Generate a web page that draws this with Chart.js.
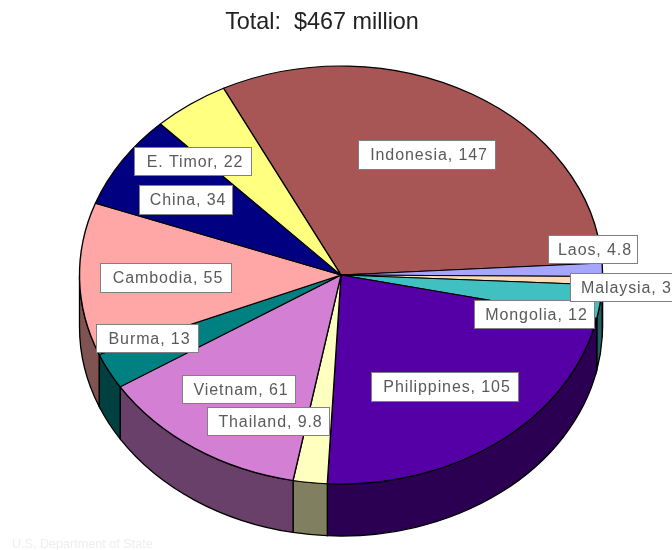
<!DOCTYPE html>
<html lang="en">
<head>
<meta charset="UTF-8">
<title>Total: $467 million</title>
<script src="https://cdn.jsdelivr.net/npm/chart.js"></script>
<style>
  html, body { margin: 0; padding: 0; background: #fff; overflow: hidden; }
  #chart { display: block; }
</style>
</head>
<body>
<canvas id="chart" width="672" height="550"></canvas>
<script>
const categories = ['Indonesia', 'Laos', 'Malaysia', 'Mongolia', 'Philippines', 'Thailand', 'Vietnam', 'Burma', 'Cambodia', 'China', 'E. Timor'];
const values = [147, 4.8, 3, 12, 105, 9.8, 61, 13, 55, 34, 22];
const colors = ['#a85555', '#a6a6ff', '#ffdcb8', '#40c0c0', '#5500a6', '#ffffc0', '#d27fd4', '#008080', '#ffa6a6', '#000080', '#ffff80'];

// label box per slice: left, top, right, bottom (hand placed in the original too)
const labelBoxes = [
  [358, 140, 496, 170], [548, 235, 638, 264], [570, 273, 680, 302], [474, 300, 595, 329],
  [371, 372, 519, 402], [207, 407, 330, 436], [182, 375, 296, 404], [96, 324, 199, 353],
  [100, 263, 232, 293], [139, 185, 233, 215], [134, 147, 252, 176]
];

// how the flat pie is laid over on its side
const pie3d = { cx: 341, cy: 275, rx: 261.5, ry: 209, depth: 52 };

function halfColor(hex) {
  const n = parseInt(hex.slice(1), 16);
  const c = [n >> 16, (n >> 8) & 255, n & 255].map(v => Math.round(v / 2));
  return `rgb(${c[0]},${c[1]},${c[2]})`;
}

const tiltPlugin = {
  id: 'tilt',
  beforeDatasetsDraw(chart) {
    const ctx = chart.ctx;
    const arcs = chart.getDatasetMeta(0).data;
    const { cx, cy, rx, ry, depth } = pie3d;

    // outer wall, only the front half shows
    arcs.forEach((arc, i) => {
      [0, Math.PI * 2].forEach(k => {
        const s = Math.max(arc.startAngle, k);
        const e = Math.min(arc.endAngle, k + Math.PI);
        if (s >= e) return;
        ctx.beginPath();
        ctx.ellipse(cx, cy, rx, ry, 0, s, e);
        ctx.ellipse(cx, cy + depth, rx, ry, 0, e, s, true);
        ctx.closePath();
        ctx.fillStyle = halfColor(colors[i]);
        ctx.fill();
        ctx.strokeStyle = '#000';
        ctx.lineWidth = 1.3;
        ctx.stroke();
      });
    });

    const a = arcs[0];
    const r = a.outerRadius;
    ctx.save();
    ctx.translate(cx, cy);
    ctx.scale(rx / r, ry / r);
    ctx.translate(-a.x, -a.y);
  },
  afterDatasetsDraw(chart) {
    const ctx = chart.ctx;
    ctx.restore();

    ctx.font = '16px "Liberation Sans"';
    ctx.letterSpacing = '0.9px';
    ctx.textBaseline = 'middle';
    ctx.textAlign = 'center';
    for (let i = categories.length - 1; i >= 0; i--) {
      const [x0, y0, x1, y1] = labelBoxes[i];
      ctx.fillStyle = '#fff';
      ctx.fillRect(x0, y0, x1 - x0, y1 - y0);
      ctx.strokeStyle = '#808080';
      ctx.lineWidth = 1;
      ctx.strokeRect(x0 + 0.5, y0 + 0.5, x1 - x0 - 1, y1 - y0 - 1);
      ctx.fillStyle = '#5a5a5a';
      const text = `${categories[i]}, ${values[i]}`;
      const tx = i === 2 ? 581 + ctx.measureText(text).width / 2 : (x0 + x1) / 2 + 2;
      ctx.fillText(text, tx, (y0 + y1) / 2 + 1);
    }
    ctx.letterSpacing = '0px';

    ctx.font = '12.6px "Liberation Sans"';
    ctx.textAlign = 'left';
    ctx.fillStyle = '#eeeeee';
    ctx.fillText('U.S. Department of State', 12, 545);
  }
};

new Chart(document.getElementById('chart'), {
  type: 'pie',
  data: {
    labels: categories,
    datasets: [{
      data: values,
      backgroundColor: colors,
      borderColor: '#000',
      borderWidth: 1.3
    }]
  },
  options: {
    responsive: false,
    animation: false,
    devicePixelRatio: 1,
    rotation: -26.7,
    layout: { padding: { right: 28 } },
    plugins: {
      legend: { display: false },
      tooltip: { enabled: false },
      title: {
        display: true,
        text: 'Total:  $467 million',
        color: '#222',
        font: { family: '"Liberation Sans"', size: 23.4, weight: 'normal' },
        padding: { top: 9, bottom: 10 }
      }
    }
  },
  plugins: [tiltPlugin]
});
</script>
</body>
</html>
